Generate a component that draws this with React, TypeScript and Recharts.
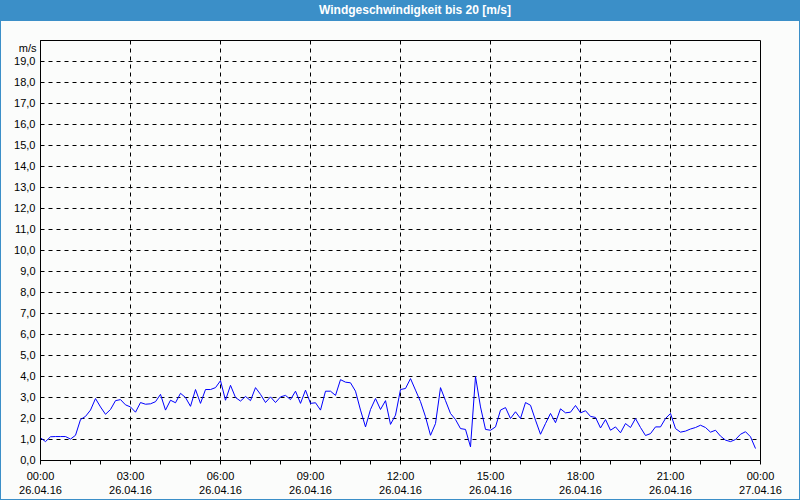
import { LineChart, Line, XAxis, YAxis, CartesianGrid, ReferenceLine, ReferenceArea } from 'recharts';

// wind speed [m/s], one reading every 10 minutes from 26.04.16 00:00
const STEP_MIN = 10;
const windSpeed = [
  1.08, 0.9, 1.13, 1.14, 1.14, 1.14, 1.02, 1.2, 1.95, 2.1, 2.4, 2.95,
  2.55, 2.2, 2.43, 2.85, 2.9, 2.65, 2.55, 2.3, 2.76, 2.68, 2.7, 2.8,
  3.15, 2.4, 2.87, 2.75, 3.2, 3.0, 2.58, 3.38, 2.72, 3.38, 3.38, 3.47,
  3.8, 2.87, 3.58, 3.0, 2.83, 3.05, 2.85, 3.47, 3.15, 2.76, 3.03, 2.76,
  3.03, 3.1, 2.9, 3.3, 2.72, 3.35, 2.72, 2.75, 2.4, 3.3, 3.3, 3.1,
  3.85, 3.73, 3.7, 3.3, 2.4, 1.6, 2.43, 2.95, 2.43, 2.85, 1.72, 2.16,
  3.38, 3.43, 3.9, 3.35, 2.8, 2.08, 1.2, 1.76, 3.47, 2.85, 2.24, 1.95,
  1.52, 1.48, 0.65, 4.0, 2.55, 1.48, 1.44, 1.6, 2.4, 2.52, 2.0, 2.32,
  2.0, 2.76, 2.63, 1.92, 1.25, 1.76, 2.24, 1.8, 2.46, 2.27, 2.3, 2.62,
  2.27, 2.37, 2.1, 2.05, 1.55, 1.95, 1.44, 1.6, 1.32, 1.76, 1.57, 2.0,
  1.57, 1.19, 1.28, 1.6, 1.6, 2.0, 2.24, 1.52, 1.35, 1.4, 1.5, 1.57,
  1.68, 1.57, 1.35, 1.44, 1.16, 0.97, 0.9, 1.0, 1.25, 1.37, 1.13, 0.57,
];

const majorTicks = [0, 180, 360, 540, 720, 900, 1080, 1260, 1440];
const tickTimes = ['00:00', '03:00', '06:00', '09:00', '12:00', '15:00', '18:00', '21:00', '00:00'];
const tickDates = ['26.04.16', '26.04.16', '26.04.16', '26.04.16', '26.04.16', '26.04.16', '26.04.16', '26.04.16', '27.04.16'];
const hourTicks = Array.from({ length: 25 }, (_, i) => i * 60);
const yTicks = Array.from({ length: 20 }, (_, i) => i);

const data = windSpeed.map((v, i) => ({ t: i * STEP_MIN, v }));

const FONT = '"Liberation Sans", Arial, sans-serif';

function TimeTick(props: any) {
  const { x, y, payload } = props;
  const idx = majorTicks.indexOf(payload.value);
  if (idx < 0) return null;
  return (
    <g>
      <text x={x} y={y + 13} textAnchor="middle" fontFamily={FONT} fontSize={11} fill="#000">
        {tickTimes[idx]}
      </text>
      <text x={x} y={y + 27} textAnchor="middle" fontFamily={FONT} fontSize={11} fill="#000">
        {tickDates[idx]}
      </text>
    </g>
  );
}

export default function App() {
  return (
    <div
      style={{
        position: 'fixed',
        left: 0,
        top: 0,
        width: 800,
        height: 500,
        background: '#fbfcfb',
        boxShadow: 'inset 0 0 0 1px #3b8fc8',
        overflow: 'hidden',
      }}
    >
      <div
        style={{
          position: 'absolute',
          left: 0,
          top: 0,
          width: 800,
          height: 21,
          background: '#3b8fc8',
        }}
      >
        <div
          style={{
            position: 'absolute',
            left: 415,
            top: 3,
            transform: 'translateX(-50%)',
            whiteSpace: 'nowrap',
            color: '#fff',
            fontFamily: FONT,
            fontWeight: 'bold',
            fontSize: 12,
          }}
        >
          Windgeschwindigkeit bis 20 [m/s]
        </div>
      </div>
      <div style={{ position: 'absolute', left: 0, top: 0 }}>
        {/* half-pixel offsets keep the 1px grid lines crisp */}
        <LineChart width={800} height={500} data={data} margin={{ top: 40.5, right: 39.5, bottom: 0, left: 0 }}>
          <CartesianGrid vertical={false} stroke="#000" strokeDasharray="4 4" />
          <XAxis
            dataKey="t"
            type="number"
            domain={[0, 1440]}
            ticks={hourTicks}
            interval={0}
            height={39.5}
            tickSize={4}
            tickMargin={2}
            tick={<TimeTick />}
            axisLine={{ stroke: '#000' }}
            tickLine={{ stroke: '#000' }}
          />
          <YAxis
            type="number"
            domain={[0, 20]}
            ticks={yTicks}
            interval={0}
            width={40.5}
            tickSize={4}
            tickMargin={1}
            tickLine={false}
            axisLine={{ stroke: '#000' }}
            tick={{ fontFamily: FONT, fontSize: 11, fill: '#000' }}
            tickFormatter={(v: number) => v.toFixed(1).replace('.', ',')}
            label={{ value: 'm/s', position: 'insideTopRight', offset: 4, fontFamily: FONT, fontSize: 11, fill: '#000' }}
          />
          {majorTicks.slice(1, -1).map((t) => (
            <ReferenceLine key={t} x={t} stroke="#000" strokeDasharray="4 4" />
          ))}
          <ReferenceArea x1={0} x2={1440} y1={0} y2={20} fill="none" stroke="#000" strokeOpacity={1} fillOpacity={0} />
          <Line
            type="linear"
            dataKey="v"
            stroke="#0000ff"
            strokeWidth={1}
            dot={false}
            isAnimationActive={false}
          />
        </LineChart>
      </div>
    </div>
  );
}
